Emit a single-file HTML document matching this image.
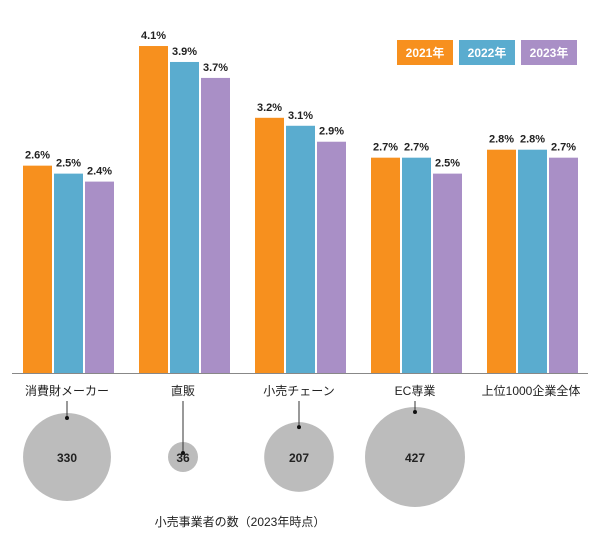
<!DOCTYPE html>
<html><head><meta charset="utf-8"><style>
body{margin:0;background:#fff;font-family:"Liberation Sans","Noto Sans CJK JP",sans-serif}
svg text{font-family:"Liberation Sans","Noto Sans CJK JP",sans-serif}
</style></head><body>
<svg id="chart" width="600" height="550"></svg>
<script>
const categories=["消費財メーカー","直販","小売チェーン","EC専業","上位1000企業全体"];
const years=["2021年","2022年","2023年"];
const s2021=[2.6,4.1,3.2,2.7,2.8];
const s2022=[2.5,3.9,3.1,2.7,2.8];
const s2023=[2.4,3.7,2.9,2.5,2.7];
const counts=[330,36,207,427,null];
const colors=["#f7901e","#5aaccf","#a98fc6"];
const series=[s2021,s2022,s2023];
const NS="http://www.w3.org/2000/svg";
const svg=document.getElementById('chart');
const base=373, pxPer=79.75;
const y=v=>base-v*pxPer;
const gx=i=>68+i*116;
function mk(t,a,p){const e=document.createElementNS(NS,t);for(const k in a)e.setAttribute(k,a[k]);(p||svg).appendChild(e);return e;}
series.forEach((s,si)=>{s.forEach((v,i)=>{
 const x=gx(i)-45+si*31;
 const r=mk('rect',{x:x,y:y(v),width:29,height:base-y(v),fill:colors[si]});
 
 
 const t=mk('text',{x:x+14.5,y:y(v)-7,'text-anchor':'middle','font-size':11,'font-weight':'bold',fill:'#222'});
 t.textContent=v.toFixed(1)+'%';
 
 
});});
const ax=mk('line',{x1:12,x2:588,y1:base+0.5,y2:base+0.5,stroke:'#888','stroke-width':1});


categories.forEach((c,i)=>{
 const t=mk('text',{x:gx(i)-1,y:395,'text-anchor':'middle','font-size':12,fill:'#222'});
 t.textContent=c;
 
 
});
const maxC=427,maxR=50;
counts.forEach((n,i)=>{
 if(n==null)return;
 const r=maxR*Math.sqrt(n/maxC);
 const cx=gx(i)-1, cy=457;
 const c=mk('circle',{cx:cx,cy:cy,r:Math.max(r,15),fill:'#bcbcbc'});
 
 
 const rr=Math.max(r,15);
 const dy=cy-rr+(i===1?11:5);
 mk('line',{x1:cx,x2:cx,y1:401,y2:dy,stroke:'#333','stroke-width':1});
 mk('circle',{cx:cx,cy:dy,r:2,fill:'#111'});
 const t=mk('text',{x:cx,y:cy+5,'text-anchor':'middle','font-size':12,'font-weight':'bold',fill:'#222'});
 t.textContent=n;
 
 
});
const ti=mk('text',{x:240,y:526,'text-anchor':'middle','font-size':12,fill:'#222'});
ti.textContent='小売事業者の数（2023年時点）';


years.forEach((yr,i)=>{
 const g=mk('g',{});
 
 
 mk('rect',{x:397+i*62,y:40,width:56,height:25,fill:colors[i]},g);
 const t=mk('text',{x:425+i*62,y:57,'text-anchor':'middle','font-size':12,'font-weight':'bold',fill:'#fff'},g);
 t.textContent=yr;
});
</script>
</body></html>
